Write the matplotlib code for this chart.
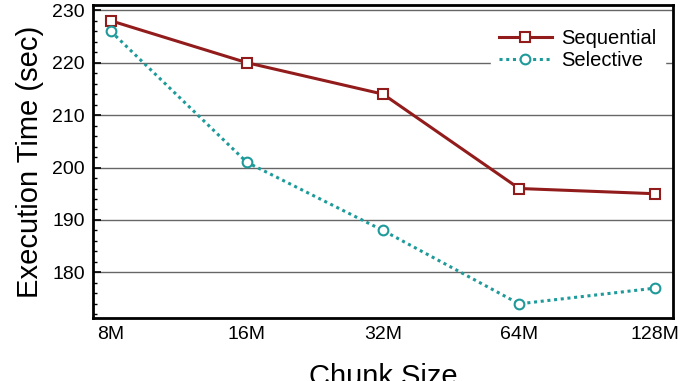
import matplotlib.pyplot as plt
from matplotlib.ticker import MultipleLocator

chunk_sizes = ["8M", "16M", "32M", "64M", "128M"]
sequential = [228, 220, 214, 196, 195]
selective = [226, 201, 188, 174, 177]

plt.rcParams["font.family"] = ["Liberation Sans", "DejaVu Sans"]

fig = plt.figure(figsize=(6.9, 3.81), dpi=100)
ax = fig.add_axes([93 / 690, 1 - 318 / 381, 580 / 690, 313 / 381])

x = list(range(len(chunk_sizes)))
ax.plot(x, sequential, color="#921c1c", lw=2.2, marker="s", ms=7,
        mfc="white", mew=1.5, label="Sequential", zorder=3)
ax.plot(x, selective, color="#1f9a9a", lw=2.2, ls=(0, (1, 1.2)), marker="o", ms=7,
        mfc="white", mew=1.5, label="Selective", zorder=3)

ax.set_xlim(-0.13, 4.13)
ax.set_ylim(171.3, 231)
ax.set_xticks(x)
ax.set_xticklabels(chunk_sizes)
ax.yaxis.set_minor_locator(MultipleLocator(2))
ax.set_yticks([180, 190, 200, 210, 220, 230])
ax.tick_params(axis="y", which="major", direction="in", length=6, width=1.2, labelsize=14, pad=6)
ax.tick_params(axis="y", which="minor", direction="in", length=3, width=1)
ax.tick_params(axis="x", length=0, labelsize=14, pad=6)
ax.grid(axis="y", which="major", color="#666666", lw=1)
for s in ax.spines.values():
    s.set_linewidth(2)

ax.set_ylabel("Execution Time (sec)", fontsize=21, labelpad=6)
ax.set_xlabel("Chunk Size", fontsize=21, labelpad=14)

leg = ax.legend(loc="upper right", bbox_to_anchor=(1.0, 0.975), frameon=True,
                fontsize=14.5, handlelength=2.6, handletextpad=0.5,
                borderaxespad=0.4, labelspacing=0.15, fancybox=False)
leg.get_frame().set_edgecolor("white")
leg.get_frame().set_alpha(1)

fig.savefig("out.png", dpi=100)
